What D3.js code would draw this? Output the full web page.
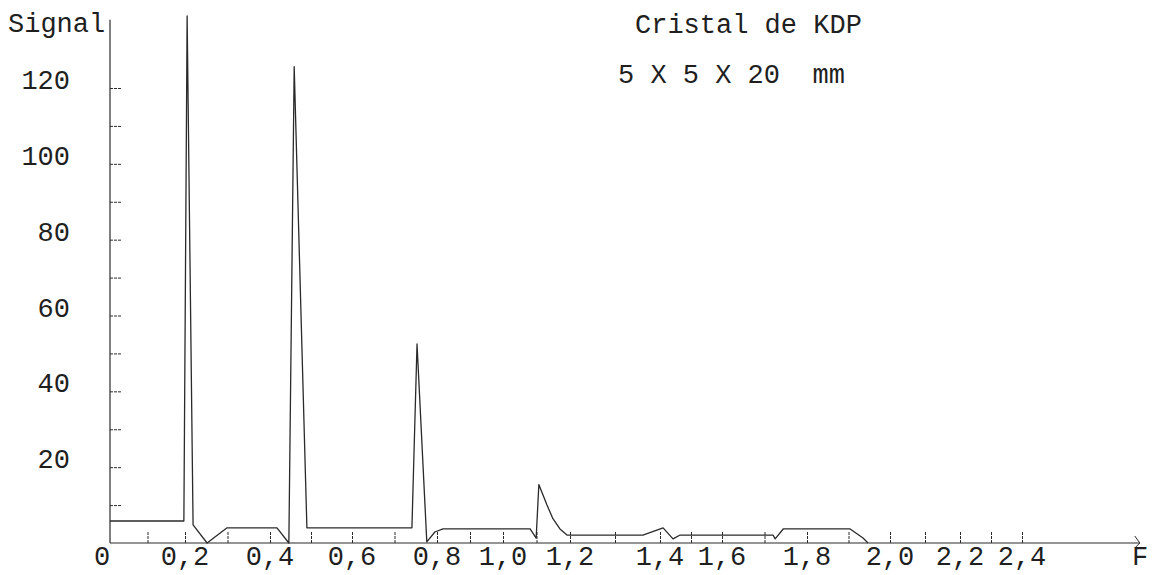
<!DOCTYPE html>
<html>
<head>
<meta charset="utf-8">
<script src="https://cdn.jsdelivr.net/npm/d3@7"></script>
<style>
    body { margin: 0; background: #fff; }
    svg text { font-family: "Liberation Mono", "DejaVu Sans Mono", monospace; fill: #1f1f1f; white-space: pre; }
</style>
</head>
<body>
<svg></svg>
<script>
// frequency F (reading of the hand drawn abscissa) and signal
const freq = [0, 0.197, 0.205, 0.219, 0.252, 0.299, 0.417, 0.446, 0.459, 0.490,
    0.741, 0.753, 0.776, 0.795, 0.818, 1.081, 1.099, 1.107, 1.131, 1.149, 1.170, 1.191,
    1.362, 1.410, 1.442, 1.465, 1.720, 1.725, 1.744, 1.904, 1.935, 1.947];
const signal = [5.8, 5.8, 139, 4.8, 0, 4.0, 4.0, 0, 125.6, 4.0,
    4.0, 52.5, 0.3, 2.9, 3.7, 3.7, 1.3, 15.4, 10.1, 6.4, 3.7, 2.1,
    2.1, 4.0, 1.1, 2.1, 2.1, 1.1, 3.7, 3.7, 1.3, 0];

const xTicks = [0, 0.2, 0.4, 0.6, 0.8, 1.0, 1.2, 1.4, 1.6, 1.8, 2.0, 2.2, 2.4];
const xTickLabels = ["0", "0,2", "0,4", "0,6", "0,8", "1,0", "1,2", "1,4", "1,6", "1,8", "2,0", "2,2", "2,4"];
const yTicks = [20, 40, 60, 80, 100, 120];
const yTickLabels = ["20", "40", "60", "80", "100", "120"];

function drawChart() {
    const width = 1152;
    const height = 575;

    const svg = d3.select('svg')
        .attr('width', width)
        .attr('height', height);

    // the typed graduations of the original are not evenly spaced
    const xPos = [110, 185, 270, 352, 437, 503, 570, 660, 722, 807, 890, 960, 1022, 1084, 1146];
    const xScale = d3.scaleLinear()
        .domain([].concat(xTicks, [2.6, 2.8]))
        .range(xPos);

    const yScale = d3.scaleLinear()
        .domain([0, 120])
        .range([543, 88]);

    const ink = '#2a2a2a';

    // minor ticks on the ordinate
    svg.append('g')
        .attr('transform', `translate(${xScale(0)}, 0)`)
        .call(d3.axisLeft(yScale)
            .tickValues(d3.range(10, 130, 10))
            .tickSize(-12)
            .tickFormat(''))
        .call(g => g.select('.domain').remove())
        .selectAll('line')
        .attr('stroke', ink)
        .attr('stroke-width', 1)
        .attr('stroke-dasharray', '3,1');

    // minor ticks on the abscissa
    svg.append('g')
        .attr('transform', `translate(0, ${yScale(0)})`)
        .call(d3.axisBottom(xScale)
            .tickValues(d3.range(0.1, 2.45, 0.1))
            .tickSize(-12)
            .tickFormat(''))
        .call(g => g.select('.domain').remove())
        .selectAll('line')
        .attr('stroke', ink)
        .attr('stroke-width', 1)
        .attr('stroke-dasharray', '3,1');

    // axes
    svg.append('line')
        .attr('x1', xScale(0)).attr('x2', xScale(0))
        .attr('y1', yScale(0)).attr('y2', yScale(138))
        .attr('stroke', ink)
        .attr('stroke-width', 1.2);

    svg.append('line')
        .attr('x1', xScale(0)).attr('x2', xScale(2.78))
        .attr('y1', yScale(0)).attr('y2', yScale(0))
        .attr('stroke', ink)
        .attr('stroke-width', 1.2);

    svg.append('path')
        .attr('d', `M${xScale(2.78) - 5},${yScale(0) - 7} L${xScale(2.78)},${yScale(0)} L${xScale(2.78) - 5},${yScale(0) + 5}`)
        .attr('fill', 'none')
        .attr('stroke', ink)
        .attr('stroke-width', 1);

    // the recorded signal
    const line = d3.line()
        .x((d, i) => xScale(freq[i]))
        .y(d => yScale(d));

    svg.append('path')
        .datum(signal)
        .attr('d', line)
        .attr('fill', 'none')
        .attr('stroke', ink)
        .attr('stroke-width', 1.3)
        .attr('stroke-linejoin', 'round');

    // tick labels
    svg.append('g')
        .selectAll('text')
        .data(xTicks)
        .enter()
        .append('text')
        .attr('x', d => d === 0 ? xScale(d) - 8 : xScale(d))
        .attr('y', 565)
        .attr('text-anchor', 'middle')
        .style('font-size', '27px')
        .text((d, i) => xTickLabels[i]);

    svg.append('g')
        .selectAll('text')
        .data(yTicks)
        .enter()
        .append('text')
        .attr('x', 70)
        .attr('y', d => yScale(d) + 1)
        .attr('text-anchor', 'end')
        .style('font-size', '27px')
        .text((d, i) => yTickLabels[i]);

    svg.append('text')
        .attr('x', 1140)
        .attr('y', 565)
        .attr('text-anchor', 'middle')
        .style('font-size', '27px')
        .text('F');

    svg.append('text')
        .attr('x', 8)
        .attr('y', 32)
        .style('font-size', '27px')
        .text('Signal');

    svg.append('text')
        .attr('x', 635)
        .attr('y', 33)
        .style('font-size', '27px')
        .text('Cristal de KDP');

    svg.append('text')
        .attr('x', 618)
        .attr('y', 83)
        .style('font-size', '27px')
        .text('5 X 5 X 20  mm');
}

drawChart();
</script>
</body>
</html>
